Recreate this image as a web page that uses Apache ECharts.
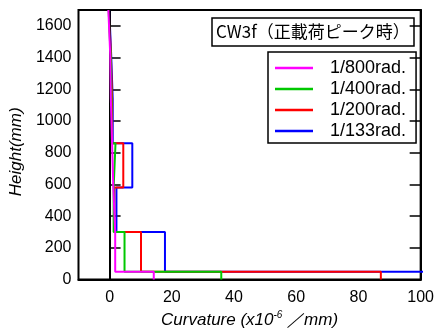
<!DOCTYPE html>
<html>
<head>
<meta charset="utf-8">
<script src="https://cdn.jsdelivr.net/npm/echarts@6/dist/echarts.min.js"></script>
<style>html,body{margin:0;padding:0;background:#fff;}#c{width:437px;height:334px;}</style>
</head>
<body>
<div id="c"></div>
<script>
// Segment boundaries (mm)
var heights = [0, 50, 300, 580, 860, 1140, 1420, 1700];
// Curvature per segment (x10^-6 /mm), bottom to top
var curv800 = [14.2, 1.8, 1.2, 0.8, 0.4, 0.2, -0.4];
var curv400 = [35.9, 4.8, 1.3, 1.9, 0.6, 0.3, -0.3];
var curv200 = [87.2, 10.1, 1.5, 4.4, 0.8, 0.4, -0.2];
var curv133 = [115, 17.8, 2.2, 7.3, 1.0, 0.5, -0.1];
var seriesNames = ['1/800rad.', '1/400rad.', '1/200rad.', '1/133rad.'];
var xTicks = [0, 20, 40, 60, 80, 100];
var yTicks = [0, 200, 400, 600, 800, 1000, 1200, 1400, 1600];
var titleText = 'CW3f（正載荷ピーク時）';

function steps(vals) {
  var pts = [];
  for (var i = 0; i < vals.length; i++) {
    pts.push([vals[i], heights[i]]);
    pts.push([vals[i], heights[i + 1]]);
  }
  return pts;
}

var colors = ['#ff00ff', '#00c800', '#ff0000', '#0000ff'];
var allVals = [curv800, curv400, curv200, curv133];
var zs = [5, 4, 3, 2];

var series = seriesNames.map(function (n, i) {
  var s = {
    name: n, type: 'line', data: steps(allVals[i]), symbol: 'none',
    z: zs[i], clip: true,
    lineStyle: { color: colors[i], width: 2 },
    itemStyle: { color: colors[i] }
  };
  if (i === 3) {
    s.markLine = {
      silent: true, symbol: 'none', label: { show: false },
      lineStyle: { color: '#000', width: 1.5, type: 'solid' },
      data: [{ xAxis: 0 }]
    };
  }
  return s;
});

var chart = echarts.init(document.getElementById('c'), null, { renderer: 'canvas' });
chart.setOption({
  animation: false,
  backgroundColor: '#fff',
  title: {
    text: titleText, left: 212, top: 18,
    padding: [4, 5, 4, 4],
    borderColor: '#000', borderWidth: 1.5,
    textStyle: { fontFamily: 'Noto Sans CJK JP', fontSize: 17, fontWeight: 'normal', color: '#000', lineHeight: 20 }
  },
  legend: {
    data: seriesNames, orient: 'vertical', left: 268, top: 52,
    padding: [7, 10, 3, 7], itemGap: 3, itemWidth: 38, itemHeight: 2.5,
    icon: 'rect',
    borderColor: '#000', borderWidth: 1.5,
    textStyle: { fontFamily: 'Liberation Sans', fontSize: 18, color: '#000', lineHeight: 18, padding: [0, 0, 0, 12] }
  },
  grid: { left: 77, right: 14.5, top: 10, bottom: 52, show: true, borderColor: '#000', borderWidth: 2, backgroundColor: 'transparent' },
  xAxis: {
    type: 'value', min: -10, max: 100, interval: 10,
    name: '{a|Curvature (x10}{s|-6}{a| ／mm)}',
    nameLocation: 'middle', nameGap: 28,
    nameTextStyle: {
      rich: {
        a: { fontFamily: 'Liberation Sans', fontStyle: 'italic', fontSize: 17, color: '#000' },
        s: { fontFamily: 'Liberation Sans', fontStyle: 'italic', fontSize: 10, color: '#000', verticalAlign: 'top', padding: [0, 0, 10, 0] }
      }
    },
    axisLine: { onZero: false, lineStyle: { color: '#000', width: 2 } },
    axisTick: { show: false },
    splitLine: { show: false },
    axisLabel: {
      margin: 10, color: '#000', fontFamily: 'Liberation Sans', fontSize: 16,
      formatter: function (v) { return xTicks.indexOf(v) >= 0 ? String(v) : ''; }
    }
  },
  yAxis: [{
    type: 'value', min: 0, max: 1700, interval: 200,
    name: 'Height(mm)', nameLocation: 'middle', nameGap: 49, nameRotate: 90,
    nameTextStyle: { fontFamily: 'Liberation Sans', fontStyle: 'italic', fontSize: 17, color: '#000', padding: [0, 14, 0, 0] },
    axisLine: { lineStyle: { color: '#000', width: 2 } },
    axisTick: { inside: true, length: 11, lineStyle: { color: '#000', width: 1.5 } },
    splitLine: { show: false },
    axisLabel: {
      margin: 7, color: '#000', fontFamily: 'Liberation Sans', fontSize: 16, showMaxLabel: false,
      formatter: function (v) { return yTicks.indexOf(v) >= 0 ? String(v) : ''; }
    }
  }, {
    type: 'value', min: 0, max: 1700, interval: 200, position: 'right',
    axisLine: { show: true, lineStyle: { color: '#000', width: 2 } },
    axisTick: { inside: true, length: 11, lineStyle: { color: '#000', width: 1.5 } },
    splitLine: { show: false },
    axisLabel: { show: false }
  }],
  series: series
});
</script>
</body>
</html>
